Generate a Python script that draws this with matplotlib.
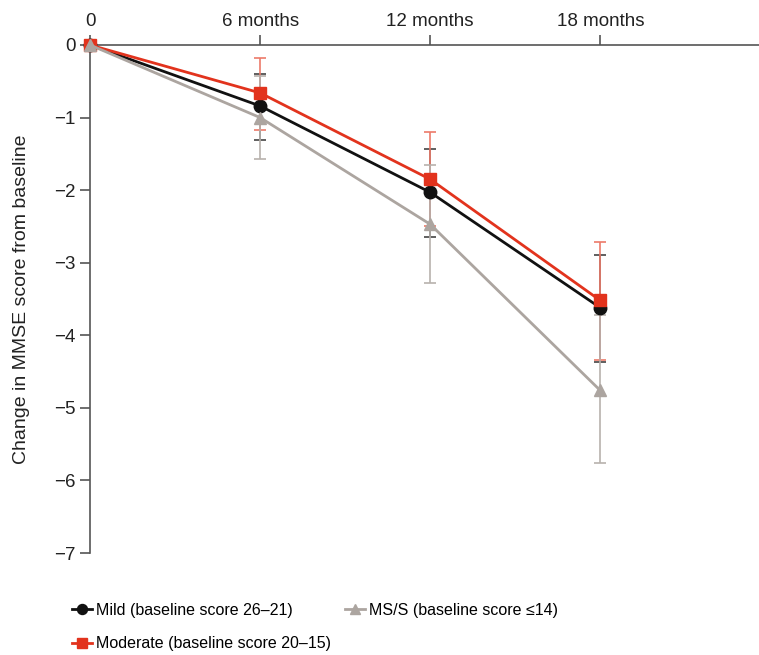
import matplotlib.pyplot as plt
import numpy as np

plt.rcParams['font.family'] = ['Liberation Sans', 'DejaVu Sans']

months = [0, 6, 12, 18]
tick_labels = ["0", "6 months", "12 months", "18 months"]

mild = [0, -0.84, -2.03, -3.62]
mild_err_hi = [0, 0.44, 0.60, 0.72]
mild_err_lo = [0, 0.47, 0.62, 0.75]

moderate = [0, -0.66, -1.85, -3.52]
moderate_err_hi = [0, 0.48, 0.65, 0.81]
moderate_err_lo = [0, 0.51, 0.65, 0.82]

mss = [0, -1.00, -2.47, -4.76]
mss_err_hi = [0, 0.57, 0.82, 1.04]
mss_err_lo = [0, 0.57, 0.81, 1.00]

fig = plt.figure(figsize=(7.59, 6.55), dpi=100)
ax = fig.add_axes([0.1186, 0.1557, 0.8814, 0.7756])

series = [
    ("Mild (baseline score 26\u201321)", mild, mild_err_lo, mild_err_hi, "#111111", "#444444", "o"),
    ("Moderate (baseline score 20\u201315)", moderate, moderate_err_lo, moderate_err_hi, "#e2331d", "#ec7a6a", "s"),
    ("MS/S (baseline score \u226414)", mss, mss_err_lo, mss_err_hi, "#aca5a0", "#b8b2ad", "^"),
]

handles = {}
for name, vals, lo, hi, col, ecol, mk in series:
    ax.errorbar(months[1:], vals[1:], yerr=[lo[1:], hi[1:]], fmt="none",
                ecolor=ecol, elinewidth=1.2, capsize=4, capthick=1.2, zorder=2)
    h, = ax.plot(months, vals, color=col, marker=mk, markersize=9, lw=2,
                 clip_on=False, zorder=3, label=name)
    handles[name] = h

ax.set_xlim(0, 23.6)
ax.set_ylim(-7, 0)
ax.spines['right'].set_visible(False)
ax.spines['bottom'].set_visible(False)
for s in ['left', 'top']:
    ax.spines[s].set_color("#555555")
    ax.spines[s].set_linewidth(1.2)
ax.xaxis.tick_top()
ax.set_xticks(months)
ax.set_xticklabels(tick_labels)
ax.set_yticks(np.arange(0, -8, -1))
ax.set_yticklabels(["0"] + ["\u2212%d" % i for i in range(1, 8)])
ax.tick_params(axis='both', colors="#555555", labelcolor="#222222",
               labelsize=13.5, length=7, width=1.2)
ax.set_ylabel("Change in MMSE score from baseline", fontsize=14, color="#222222", labelpad=17)

fig.legend(handles=[handles[s[0]] for s in series], loc="upper left",
           bbox_to_anchor=(72 / 759, 1 - 603 / 655), ncol=2, frameon=False,
           fontsize=11.5, borderpad=0, borderaxespad=0,
           handlelength=1.25, handletextpad=0.25, columnspacing=0.9, labelspacing=1.15,
           markerscale=0.8)

fig.savefig("out.png", dpi=100)
